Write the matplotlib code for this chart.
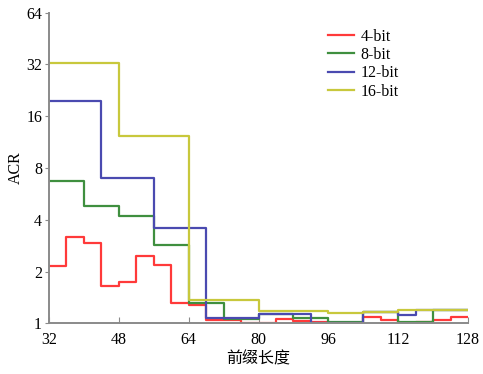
import matplotlib
matplotlib.use("Agg")
import matplotlib.pyplot as plt
from matplotlib.ticker import FixedLocator, FixedFormatter, NullLocator

# prefix length breakpoints (step-post) and ACR values
red_x = [32, 36, 40, 44, 48, 52, 56, 60, 64, 68, 76, 84, 88, 92, 96, 104, 108, 112, 116, 120, 124, 128]
red_y = [2.15, 3.16, 2.95, 1.65, 1.73, 2.46, 2.17, 1.32, 1.27, 1.045, 1.01, 1.06, 1.03, 1.02, 1.0, 1.09, 1.045, 1.01, 1.02, 1.045, 1.09, 1.09]

green_x = [32, 40, 48, 56, 64, 72, 80, 88, 96, 104, 112, 120, 128]
green_y = [6.7, 4.8, 4.2, 2.87, 1.31, 1.055, 1.14, 1.08, 1.02, 1.16, 1.02, 1.19, 1.19]

blue_x = [32, 44, 56, 68, 80, 92, 104, 112, 116, 128]
blue_y = [19.7, 7.0, 3.6, 1.08, 1.13, 1.01, 1.17, 1.12, 1.19, 1.19]

yellow_x = [32, 48, 64, 80, 96, 104, 112, 128]
yellow_y = [32.5, 12.2, 1.37, 1.18, 1.15, 1.17, 1.2, 1.2]

labels = ["4-bit", "8-bit", "12-bit", "16-bit"]
colors = ["#ff3a3a", "#3f8f3f", "#4a4ab0", "#c8c83c"]

xticks = [32, 48, 64, 80, 96, 112, 128]
yticks = [1, 2, 4, 8, 16, 32, 64]
xlabel = "前缀长度"
ylabel = "ACR"

serif = ["Liberation Serif", "DejaVu Serif"]
cjk = ["Liberation Serif", "Noto Sans CJK SC"]

fig = plt.figure(figsize=(4.83, 3.74), dpi=100)
ax = fig.add_axes([0.1014, 0.1356, 0.8676, 0.8304])

series = [(red_x, red_y), (green_x, green_y), (blue_x, blue_y), (yellow_x, yellow_y)]
for (xs, ys), lab, c in zip(series, labels, colors):
    ax.plot(xs, ys, drawstyle="steps-post", color=c, lw=1.6, label=lab)

ax.set_yscale("log", base=2)
ax.set_xlim(32, 128)
ax.set_ylim(1, 64)
ax.yaxis.set_major_locator(FixedLocator(yticks))
ax.yaxis.set_major_formatter(FixedFormatter([str(v) for v in yticks]))
ax.yaxis.set_minor_locator(NullLocator())
ax.set_xticks(xticks)
ax.set_xticklabels([str(v) for v in xticks])

for sp in ["top", "right"]:
    ax.spines[sp].set_visible(False)
for sp in ["left", "bottom"]:
    ax.spines[sp].set_color("#8a8a8a")
    ax.spines[sp].set_linewidth(1.4)

ax.tick_params(axis="x", direction="in", length=4, color="#8a8a8a", pad=6)
ax.tick_params(axis="y", direction="out", length=3, color="#8a8a8a", pad=2)
for t in ax.get_xticklabels() + ax.get_yticklabels():
    t.set_fontfamily(serif)
    t.set_fontsize(11.5)

ax.set_xlabel(xlabel, fontfamily=cjk, fontsize=11.5, labelpad=3)
ax.set_ylabel(ylabel, fontfamily=serif, fontsize=11.5, labelpad=2)

leg = ax.legend(loc="upper left", bbox_to_anchor=(0.64, 0.985), frameon=False,
                prop={"family": serif, "size": 11.5}, handlelength=1.6,
                handletextpad=0.4, labelspacing=0.15, borderpad=0.2)

fig.savefig("out.png", dpi=100)
